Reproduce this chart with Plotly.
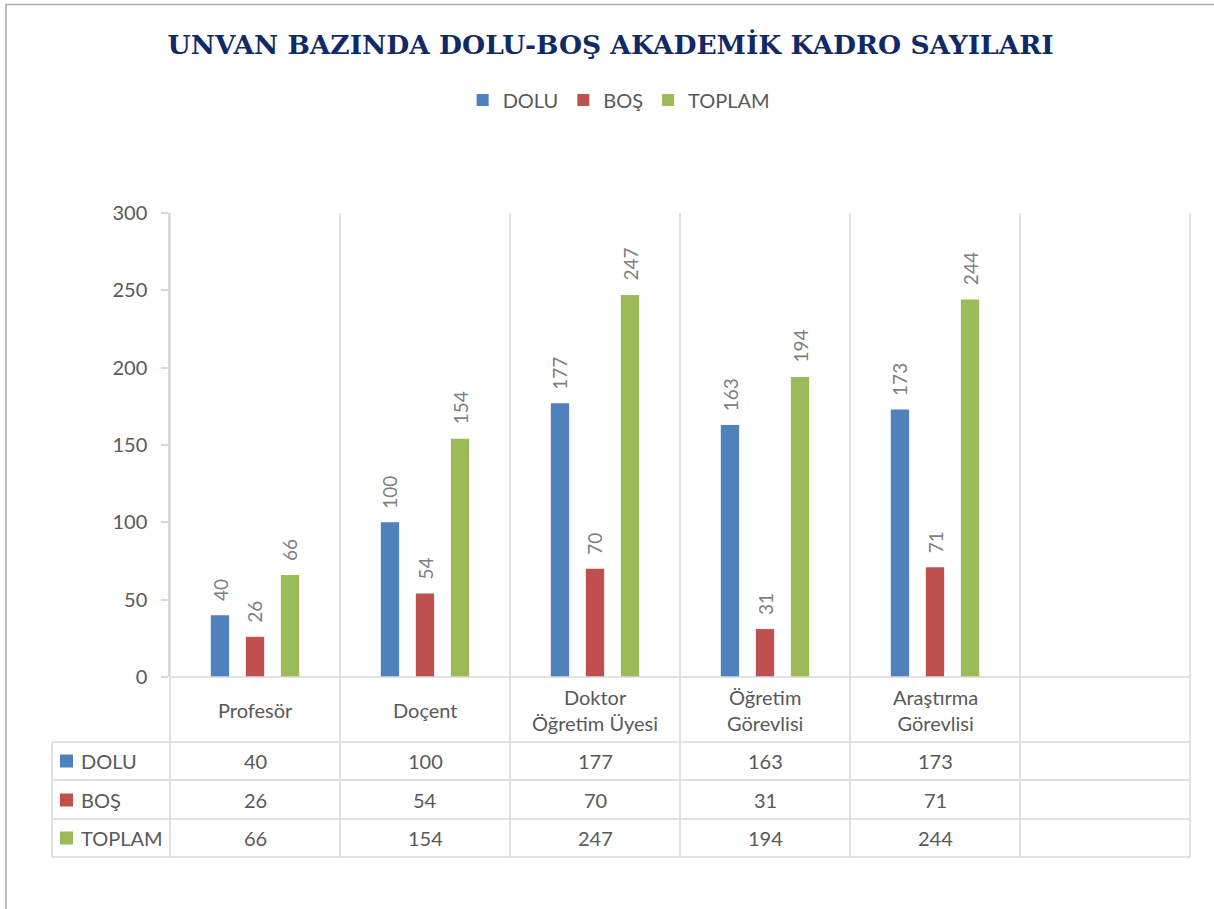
import plotly.graph_objects as go

# ---------------- data ----------------
categories = ["Profesör", "Doçent", "Doktor Öğretim Üyesi", "Öğretim Görevlisi", "Araştırma Görevlisi"]
category_labels = ["Profesör", "Doçent", "Doktor<br>Öğretim Üyesi", "Öğretim<br>Görevlisi", "Araştırma<br>Görevlisi"]
series_names = ["DOLU", "BOŞ", "TOPLAM"]
dolu = [40, 100, 177, 163, 173]
bos = [26, 54, 70, 31, 71]
toplam = [66, 154, 247, 194, 244]
y_ticks = [0, 50, 100, 150, 200, 250, 300]
title_text = "UNVAN BAZINDA DOLU-BOŞ AKADEMİK KADRO SAYILARI"

series_values = [dolu, bos, toplam]
colors = ["#4F81BD", "#C0504D", "#9BBB59"]

# ---------------- layout geometry ----------------
W, H = 1214, 909
ML, MR, MT, MB = 170, 24, 213, 232
n_slots = 6  # five categories + an empty slot
xmin, xmax = -0.5, n_slots - 0.5
bargap = 0.382
bargroupgap = 0.477
slot = (1 - bargap) / 3

FONT = "Lato, Calibri, 'Noto Sans', sans-serif"
TXT = "#595959"
GRID = "#D9D9D9"

plot_h = H - MT - MB
plot_w = W - ML - MR


def py(pix):
    return (H - MB - pix) / plot_h


def px(pix):
    return (pix - ML) / plot_w


def xp(v):
    return (v - xmin) / (xmax - xmin)


x_idx = list(range(len(categories)))

fig = go.Figure()
for name, vals, col in zip(series_names, series_values, colors):
    fig.add_trace(go.Bar(
        x=x_idx, y=vals, name=name,
        marker=dict(color=col, line=dict(width=0)),
        hoverinfo="y+name",
    ))

shapes = []
annotations = []

# vertical grid lines / category separators (from plot top to table bottom)
row_lines = [742, 780, 819, 857]
for b in range(n_slots + 1):
    xv = xp(b - 0.5)
    shapes.append(dict(type="line", xref="paper", yref="paper", x0=xv, x1=xv,
                       y0=py(857), y1=1, line=dict(color=GRID, width=1.5), layer="below"))
# x axis line
shapes.append(dict(type="line", xref="paper", yref="paper", x0=0, x1=1, y0=0, y1=0,
                   line=dict(color=GRID, width=1.5)))
# table horizontal lines
for r in row_lines:
    shapes.append(dict(type="line", xref="paper", yref="paper", x0=px(52), x1=1,
                       y0=py(r), y1=py(r), line=dict(color=GRID, width=1.5)))
# table left border
shapes.append(dict(type="line", xref="paper", yref="paper", x0=px(52), x1=px(52),
                   y0=py(742), y1=py(857), line=dict(color=GRID, width=1.5)))
# outer chart border
shapes.append(dict(type="rect", xref="paper", yref="paper", x0=px(6), x1=px(1225),
                   y0=py(920), y1=py(4.5), line=dict(color="#ABABAB", width=1.5)))

# data labels (rotated) above bars
for k, (vals, col) in enumerate(zip(series_values, colors)):
    off = (k - 1) * slot
    for i, v in enumerate(vals):
        annotations.append(dict(x=i + off, y=v, xref="x", yref="y", text=str(v),
                                showarrow=False, textangle=-90, yanchor="bottom",
                                xanchor="center", yshift=12,
                                font=dict(family=FONT, size=19, color="#7F7F7F")))

# category labels row
for i, lab in enumerate(category_labels):
    annotations.append(dict(x=i, y=py(709.5), xref="x", yref="paper", text=lab,
                            showarrow=False, yanchor="middle", xanchor="center",
                            font=dict(family=FONT, size=20, color=TXT)))

# data table rows
row_centers = [761, 800, 838]
for name, vals, col, rc in zip(series_names, series_values, colors, row_centers):
    shapes.append(dict(type="rect", xref="paper", yref="paper", x0=px(60), x1=px(73),
                       y0=py(rc + 6.5), y1=py(rc - 6.5), line=dict(width=0), fillcolor=col))
    annotations.append(dict(x=px(79), y=py(rc), xref="paper", yref="paper", text=name,
                            showarrow=False, xanchor="left", yanchor="middle",
                            font=dict(family=FONT, size=20, color=TXT)))
    for i, v in enumerate(vals):
        annotations.append(dict(x=i, y=py(rc), xref="x", yref="paper", text=str(v),
                                showarrow=False, xanchor="center", yanchor="middle",
                                font=dict(family=FONT, size=20, color=TXT)))

fig.update_layout(
    width=W, height=H,
    margin=dict(l=ML, r=MR, t=MT, b=MB, autoexpand=False),
    paper_bgcolor="white", plot_bgcolor="white",
    barmode="group", bargap=bargap, bargroupgap=bargroupgap,
    title=dict(text="<b>" + title_text + "</b>", x=0.503, xref="container", xanchor="center",
               y=1 - 45 / H, yref="container", yanchor="middle",
               font=dict(family="'DejaVu Serif', serif", size=26.5, color="#0F2A66")),
    legend=dict(orientation="h", x=0.51, xref="container", xanchor="center",
                y=1 - 100 / H, yref="container", yanchor="middle",
                font=dict(family=FONT, size=20, color=TXT), traceorder="normal",
                itemwidth=30),
    xaxis=dict(range=[xmin, xmax], showticklabels=False, showgrid=False, zeroline=False,
               showline=False, ticks=""),
    yaxis=dict(range=[0, 300], tickvals=y_ticks, showgrid=False, zeroline=False,
               showline=True, linecolor=GRID, linewidth=1.5, ticks="outside", ticklen=7,
               tickcolor=GRID, tickwidth=1.5,
               tickfont=dict(family=FONT, size=20, color=TXT), ticklabelstandoff=10),
    shapes=shapes, annotations=annotations,
    showlegend=True,
)

fig.write_html("out.html", config={"displayModeBar": False},
               post_script="document.body.style.margin='0px';")
